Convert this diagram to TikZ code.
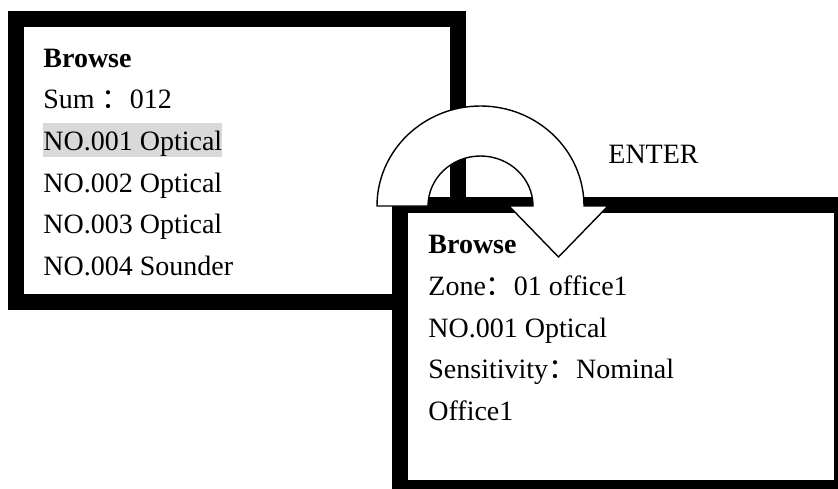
\documentclass[tikz,border=0pt]{standalone}
\usepackage{fontspec}
\setmainfont{Liberation Serif}
\newfontfamily\cjk{Noto Sans CJK SC}
\usetikzlibrary{positioning}

\tikzset{
  screen/.style={draw,fill=white,line width=8pt,minimum width=221pt,minimum height=141.5pt,inner sep=0pt},
  entry/.style={anchor=base west,inner sep=0pt,font=\fontsize{14}{16}\selectfont},
  title/.style={entry,font=\fontsize{14}{16}\selectfont\bfseries},
  turn/.style={draw=black,fill=white,line width=0.7pt,line join=miter}
}

\begin{document}
\begin{tikzpicture}[x=0.5pt,y=-0.5pt]
    \useasboundingbox (0,0) rectangle (838,488);
    \clip (0,0) rectangle (838,488);

    % list screen
    \node[screen] (list) at (237,160) {};
    \node[title] (ltitle) at (43,67) {Browse};
    \node[entry] (lsum) at (43,108) {Sum {\cjk ：}012};
    \node[entry,fill=black!15,text height=13.5pt,text depth=3.5pt] (l1) at (43,150) {NO.001 Optical};
    \node[entry] (l2) at (43,192) {NO.002 Optical};
    \node[entry] (l3) at (43,233) {NO.003 Optical};
    \node[entry] (l4) at (43,275) {NO.004 Sounder};

    % detail screen
    \node[screen] (info) at (620.5,346.5) {};
    \node[title] (rtitle) at (428,253) {Browse};
    \node[entry] (rzone) at (428,295) {Zone{\cjk ：}01 office1};
    \node[entry] (rno) at (428,337) {NO.001 Optical};
    \node[entry] (rsens) at (428,378) {Sensitivity{\cjk ：}Nominal};
    \node[entry] (rname) at (428,420) {Office1};

    % u-turn arrow
    \draw[turn] (377,206) arc[start angle=180,end angle=360,x radius=103.5,y radius=100]
        -- (608,206) -- (558.5,257) -- (509,206) -- (533,206)
        arc[start angle=360,end angle=180,x radius=52.5,y radius=50] -- cycle;
    \node[entry] (enter) at (608,163) {ENTER};
\end{tikzpicture}
\end{document}
